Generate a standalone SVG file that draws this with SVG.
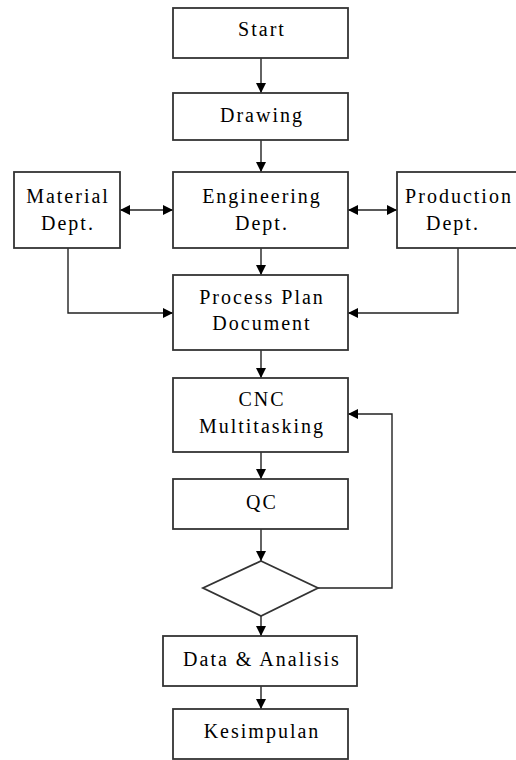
<svg xmlns="http://www.w3.org/2000/svg" width="516" height="760" viewBox="0 0 516 760">
<defs>
<marker id="ah" viewBox="0 0 10 10" refX="10" refY="5" markerWidth="10" markerHeight="10" markerUnits="userSpaceOnUse" orient="auto-start-reverse">
<path d="M0,0 L10,5 L0,10 Z" fill="#000"/>
</marker>
<style>
.box{fill:#fff;stroke:#333;stroke-width:1.8}
.t{font-family:"Liberation Serif","Times New Roman",serif;font-size:20px;letter-spacing:2px;fill:#000;text-anchor:middle}
.c{fill:none;stroke:#222;stroke-width:1.4}
</style>
</defs>
<rect width="516" height="760" fill="#fff"/>
<g id="connectors">
<line class="c" x1="261" y1="58" x2="261" y2="93" marker-end="url(#ah)"/>
<line class="c" x1="261" y1="140" x2="261" y2="172" marker-end="url(#ah)"/>
<line class="c" x1="120" y1="210" x2="173" y2="210" marker-start="url(#ah)" marker-end="url(#ah)"/>
<line class="c" x1="348" y1="210" x2="397" y2="210" marker-start="url(#ah)" marker-end="url(#ah)"/>
<line class="c" x1="261" y1="248" x2="261" y2="275" marker-end="url(#ah)"/>
<polyline class="c" points="68,248 68,313 173,313" marker-end="url(#ah)"/>
<polyline class="c" points="458,248 458,313 348,313" marker-end="url(#ah)"/>
<line class="c" x1="261" y1="350" x2="261" y2="378" marker-end="url(#ah)"/>
<line class="c" x1="261" y1="452" x2="261" y2="479" marker-end="url(#ah)"/>
<line class="c" x1="261" y1="529" x2="261" y2="561" marker-end="url(#ah)"/>
<polyline class="c" points="318,588 392,588 392,414 348,414" marker-end="url(#ah)"/>
<line class="c" x1="261" y1="616" x2="261" y2="636" marker-end="url(#ah)"/>
<line class="c" x1="261" y1="686" x2="261" y2="709" marker-end="url(#ah)"/>
</g>
<g id="start"><rect class="box" x="173" y="8" width="175" height="50"/><text class="t" x="262" y="36">Start</text></g>
<g id="drawing"><rect class="box" x="173" y="93" width="175" height="47"/><text class="t" x="262" y="122">Drawing</text></g>
<g id="material"><rect class="box" x="14" y="172" width="106" height="76"/><text class="t" x="68" y="203">Material</text><text class="t" x="68" y="230">Dept.</text></g>
<g id="engineering"><rect class="box" x="173" y="172" width="175" height="76"/><text class="t" x="262" y="203">Engineering</text><text class="t" x="262" y="230">Dept.</text></g>
<g id="production"><rect class="box" x="397" y="172" width="130" height="76"/><text class="t" x="459" y="203">Production</text><text class="t" x="453" y="230">Dept.</text></g>
<g id="processplan"><rect class="box" x="173" y="275" width="175" height="75"/><text class="t" x="262" y="304">Process Plan</text><text class="t" x="262" y="330">Document</text></g>
<g id="cnc"><rect class="box" x="173" y="378" width="175" height="74"/><text class="t" x="262" y="406">CNC</text><text class="t" x="262" y="433">Multitasking</text></g>
<g id="qc"><rect class="box" x="173" y="479" width="175" height="50"/><text class="t" x="262" y="509">QC</text></g>
<g id="decision"><polygon class="box" points="261,561 318,588 261,616 203,588"/></g>
<g id="data"><rect class="box" x="163" y="636" width="194" height="50"/><text class="t" x="262" y="666">Data &amp; Analisis</text></g>
<g id="kesimpulan"><rect class="box" x="173" y="709" width="175" height="50"/><text class="t" x="262" y="738">Kesimpulan</text></g>
</svg>
